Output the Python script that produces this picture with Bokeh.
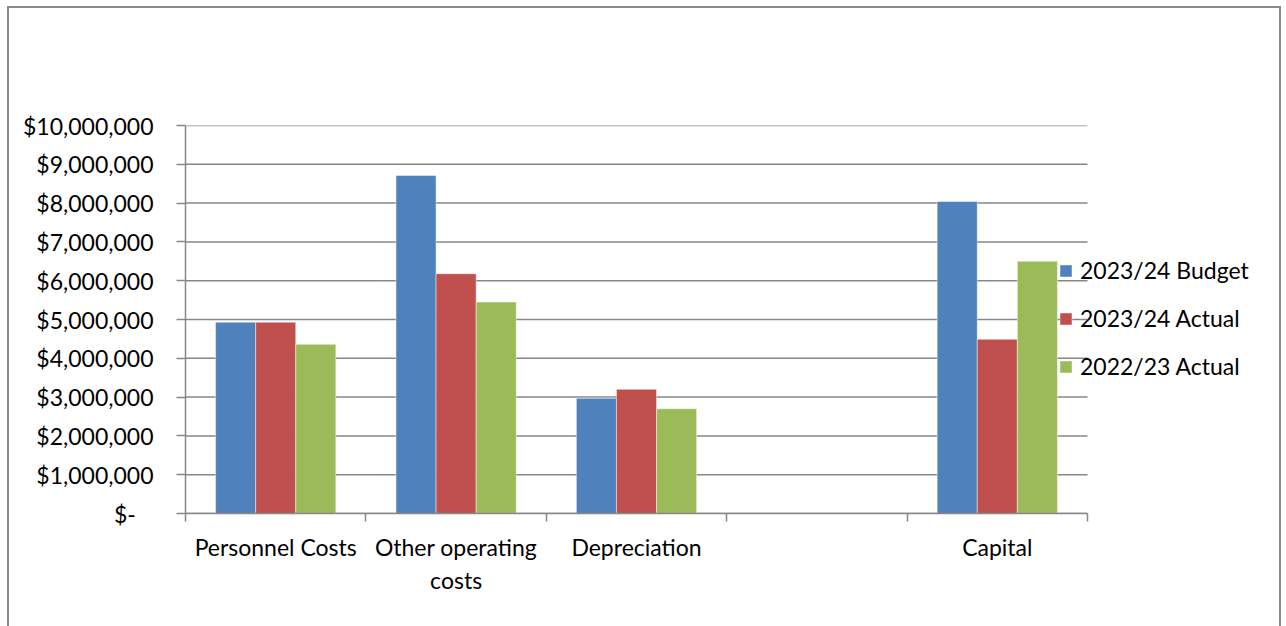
from bokeh.plotting import figure
from bokeh.models import ColumnDataSource, FixedTicker, Legend, LegendItem
from bokeh.embed import file_html
from bokeh.resources import INLINE

categories = ["Personnel Costs", "Other operating\ncosts", "Depreciation", "", "Capital"]
series_names = ["2023/24 Budget", "2023/24 Actual", "2022/23 Actual"]
budget_2324 = [4.93e6, 8.71e6, 2.97e6, None, 8.04e6]
actual_2324 = [4.93e6, 6.18e6, 3.20e6, None, 4.49e6]
actual_2223 = [4.36e6, 5.45e6, 2.70e6, None, 6.50e6]
colors = ["#4F81BD", "#C0504D", "#9BBB59"]
y_ticks = [0, 1e6, 2e6, 3e6, 4e6, 5e6, 6e6, 7e6, 8e6, 9e6, 10e6]
y_labels = ["$-\u00a0\u00a0\u00a0", "$1,000,000", "$2,000,000", "$3,000,000", "$4,000,000",
            "$5,000,000", "$6,000,000", "$7,000,000", "$8,000,000", "$9,000,000", "$10,000,000"]

FONT = "Lato"
FS = "23px"
GRID = "#878787"

W, H = 1286, 626
FRAME_L, PLOT_R, FRAME_T, FRAME_B = 185, 1087, 125, 513
n = len(categories)
# frame extends to the right edge so the legend can sit over it; axis/grid bounded to the categories
x_end = n * (W - FRAME_L) / (PLOT_R - FRAME_L)

p = figure(width=W, height=H, output_backend="svg", toolbar_location=None,
           x_range=(0, x_end), y_range=(0, 10e6),
           min_border_left=FRAME_L, min_border_right=0, min_border_top=FRAME_T,
           min_border_bottom=H - FRAME_B)
p.border_fill_color = None
p.background_fill_color = None
p.outline_line_color = None
p.styles = {
    "background": ("linear-gradient(#8a8a8a,#8a8a8a) 7px 6px / 2px 100% no-repeat, "
                   "linear-gradient(#8a8a8a,#8a8a8a) 7px 6px / 1274px 2px no-repeat, "
                   "linear-gradient(#8a8a8a,#8a8a8a) 1279px 6px / 2px 100% no-repeat, white")
}

# horizontal gridlines limited to the category span
gsrc = ColumnDataSource(dict(x0=[0] * len(y_ticks), x1=[n] * len(y_ticks), y=y_ticks))
p.segment(x0="x0", x1="x1", y0="y", y1="y", source=gsrc, line_color=GRID,
          line_width=1.5, level="underlay")

bw = 0.2222
offsets = [-bw, 0.0, bw]
renderers = []
for name, vals, col, off in zip(series_names, [budget_2324, actual_2324, actual_2223], colors, offsets):
    xs = [i + 0.5 + off for i, v in enumerate(vals) if v is not None]
    tops = [v for v in vals if v is not None]
    src = ColumnDataSource(dict(x=xs, top=tops))
    r = p.vbar(x="x", top="top", bottom=0, width=bw, source=src, fill_color=col,
               line_color="white", line_alpha=0.45, line_width=1)
    renderers.append((name, r))

# y axis
yax = p.yaxis[0]
yax.ticker = FixedTicker(ticks=y_ticks, minor_ticks=[])
yax.major_label_overrides = {t: l for t, l in zip(y_ticks, y_labels)}
yax.major_tick_out = 9
yax.major_tick_in = 0
yax.major_tick_line_color = GRID
yax.major_tick_line_width = 1.5
yax.axis_line_color = GRID
yax.axis_line_width = 1.5
yax.major_label_standoff = 23
yax.major_label_text_font = FONT
yax.major_label_text_font_size = FS
yax.major_label_text_color = "#000000"

# x axis: ticks at category boundaries, labels at centers
xax = p.xaxis[0]
centers = [i + 0.5 for i in range(n)]
bounds = [float(i) for i in range(n + 1)]
xax.ticker = FixedTicker(ticks=centers, minor_ticks=bounds)
xax.bounds = (0, n)
xax.major_label_overrides = {c: l for c, l in zip(centers, categories)}
xax.major_tick_out = 0
xax.major_tick_in = 0
xax.minor_tick_out = 8
xax.minor_tick_in = 0
xax.minor_tick_line_color = GRID
xax.minor_tick_line_width = 1.5
xax.axis_line_color = GRID
xax.axis_line_width = 1.5
xax.major_label_standoff = 11
xax.major_label_text_font = FONT
xax.major_label_text_font_size = FS
xax.major_label_text_color = "#000000"

p.xgrid.grid_line_color = None
p.ygrid.grid_line_color = None

legend = Legend(items=[LegendItem(label=nm, renderers=[r]) for nm, r in renderers],
                location=(873, 123), orientation="vertical",
                background_fill_alpha=0, border_line_alpha=0,
                padding=0, margin=0, spacing=0,
                glyph_width=15, glyph_height=15, label_height=48, label_standoff=7,
                label_text_font=FONT, label_text_font_size=FS, label_text_color="#000000")
p.add_layout(legend, "center")

open("out.html", "w").write(file_html(p, INLINE))
